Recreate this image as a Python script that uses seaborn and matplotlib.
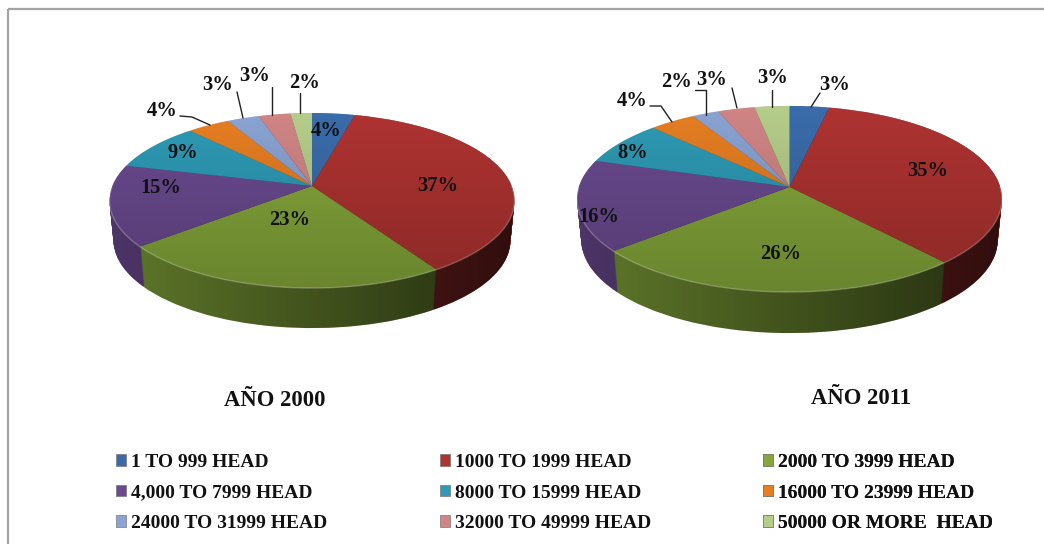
import numpy as np
import matplotlib
matplotlib.use("Agg")
import matplotlib.pyplot as plt
from matplotlib.patches import Patch, Polygon, Rectangle
from matplotlib.transforms import Transform
import seaborn as sns

# head-size classes
categories = ["1 TO 999 HEAD", "1000 TO 1999 HEAD", "2000 TO 3999 HEAD",
              "4,000 TO 7999 HEAD", "8000 TO 15999 HEAD", "16000 TO 23999 HEAD",
              "24000 TO 31999 HEAD", "32000 TO 49999 HEAD", "50000 OR MORE  HEAD"]
values_2000 = [4, 37, 23, 15, 9, 4, 3, 3, 2]
values_2011 = [3.4, 35, 25.5, 15.9, 7.7, 4, 2.3, 3.2, 3]
colores = ["#3a6cab", "#ae3331", "#84a63a", "#6a4a8f", "#2e9ab5",
           "#e67e22", "#8aa3d2", "#d08585", "#b5cd8a"]

# label centres and leader lines, in picture pixels
pos_2000 = [(326, 131), (438, 186), (290, 220), (161, 188), (183, 153),
            (162, 111), (218, 85), (255, 76), (304, 83)]
pos_2011 = [(835, 85), (928, 171), (781, 254), (599, 217), (633, 153),
            (632, 101), (676, 82), (712, 80), (773, 78)]
lineas_2000 = [[(180, 116), (192, 117), (210, 125)], [(237, 92), (243, 118)],
               [(272, 87), (272, 115)], [(300, 93), (300, 113)]]
lineas_2011 = [[(820, 93), (811, 107)], [(650, 106), (661, 106), (672, 122)],
               [(695, 90), (706, 90), (706, 115)], [(732, 88), (737, 108)],
               [(772, 90), (772, 107)]]

sns.set_theme(style="white")
plt.rcParams["font.family"] = ["Liberation Serif", "DejaVu Serif"]
paleta = sns.color_palette(colores)
sin_borde = {"linewidth": 0, "edgecolor": "none"}


class Perspectiva(Transform):
    # unit disc -> tilted disc, apex sits above the ellipse centre
    input_dims = 2
    output_dims = 2

    def __init__(self, cx, cy, a, b, k, z=0.0, esc=1.0):
        super().__init__()
        self.p = (cx, cy, a, b, k, z, esc)

    def transform_non_affine(self, values):
        cx, cy, a, b, k, z, esc = self.p
        v = np.asarray(values, dtype=float)
        w = 1 + k * v[:, 1]
        return np.column_stack([cx + esc * b * v[:, 0] / w, cy - a * v[:, 1] / w + z])


def gradiente(ax, poly, extent, alfa, zorder, vertical):
    rampa = np.zeros((256, 1, 4)) if vertical else np.zeros((1, 256, 4))
    if vertical:
        rampa[:, 0, 3] = np.linspace(alfa[0], alfa[1], 256)
    else:
        rampa[0, :, 3] = np.linspace(alfa[0], alfa[1], 256)
    im = ax.imshow(rampa, extent=extent, origin="upper", aspect="auto", zorder=zorder)
    im.set_clip_path(Polygon(poly, transform=ax.transData))


def tarta(ax, valores, cx, cy, a, b, k, prof):
    # side wall: stack of darker discs going up to the top face
    oscuros = [tuple(0.72 * c for c in col) for col in paleta]
    for z in range(prof, 0, -1):
        tr = Perspectiva(cx, cy, a, b, k, z, 1 - 0.02 * z / prof) + ax.transData
        wedges, _ = ax.pie(valores, colors=oscuros, startangle=90, counterclock=False,
                           wedgeprops=sin_borde)
        for w in wedges:
            w.set_transform(tr)
            w.set_zorder(1)
    wedges, _ = ax.pie(valores, colors=paleta, startangle=90, counterclock=False,
                       wedgeprops=sin_borde)
    arriba = Perspectiva(cx, cy, a, b, k) + ax.transData
    for w in wedges:
        w.set_transform(arriba)
        w.set_zorder(3)

    t = np.linspace(0, 2 * np.pi, 361)
    disco = np.column_stack([np.cos(t), np.sin(t)])
    cara = Perspectiva(cx, cy, a, b, k).transform_non_affine(disco)
    fondo = Perspectiva(cx, cy, a, b, k, prof, 0.98).transform_non_affine(disco)
    # silhouette of the wall, the arcs meet where the ellipse is widest
    giro = np.arcsin(k)
    t_del = np.linspace(np.pi + giro, 2 * np.pi - giro, 181)
    t_atr = np.linspace(-giro, np.pi + giro, 181)
    borde = np.vstack([
        Perspectiva(cx, cy, a, b, k, prof, 0.98).transform_non_affine(
            np.column_stack([np.cos(t_del), np.sin(t_del)])),
        Perspectiva(cx, cy, a, b, k).transform_non_affine(
            np.column_stack([np.cos(t_atr), np.sin(t_atr)]))])
    izq, der = cara[:, 0].min(), cara[:, 0].max()
    sup, inf = cara[:, 1].min(), fondo[:, 1].max()
    gradiente(ax, borde, (izq, der, inf, sup), (0.0, 0.62), 2, False)
    gradiente(ax, cara, (izq, der, cara[:, 1].max(), sup), (0.0, 0.2), 4, True)
    # thin light rim along the front edge
    rim = cara[181:]
    ax.plot(rim[:, 0], rim[:, 1], color="white", alpha=0.25, lw=1, zorder=5)


fig = plt.figure(figsize=(10.44, 5.44), dpi=100)
ax = fig.add_axes([0, 0, 1, 1])

tarta(ax, values_2000, 312, 186, 85.1, 199.7, 0.166, 40)
tarta(ax, values_2011, 789.5, 187, 91.5, 210.7, 0.129, 41)

ax.set_aspect("auto")
ax.set_xlim(0, 1044)
ax.set_ylim(544, 0)
ax.set_axis_off()

# frame runs off the right and bottom of the picture
ax.add_patch(Rectangle((8, 9), 1100, 560, fill=False, ec="#a3a3a3", lw=1.6, zorder=0))

for vals, posiciones, lineas in [(values_2000, pos_2000, lineas_2000),
                                 (values_2011, pos_2011, lineas_2011)]:
    for v, (x, y) in zip(vals, posiciones):
        ax.text(x, y, f"{round(v)}%", ha="center", va="center", fontsize=14.8,
                fontweight="bold", color="#111111", zorder=7)
    for ln in lineas:
        ax.plot([p[0] for p in ln], [p[1] for p in ln], color="#222222", lw=1, zorder=6)

ax.text(275, 401, "AÑO 2000", ha="center", va="center", fontsize=16.3,
        fontweight="bold", color="#111111")
ax.text(861, 398, "AÑO 2011", ha="center", va="center", fontsize=16.3,
        fontweight="bold", color="#111111")

# one legend per column, the columns are not evenly spaced in the original
handles = [Patch(facecolor=c, edgecolor="#777777", lw=0.5) for c in paleta]
for col, x_col in enumerate([116, 440, 763]):
    leg = ax.legend(handles[col::3], categories[col::3], loc="upper left",
                    bbox_to_anchor=(x_col, 454), bbox_transform=ax.transData,
                    frameon=False, borderpad=0, borderaxespad=0,
                    handlelength=0.52, handleheight=0.52, handletextpad=0.26,
                    labelspacing=0.695,
                    prop={"family": "Liberation Serif", "weight": "bold", "size": 14})
    for txt in leg.get_texts():
        txt.set_color("#111111")
    ax.add_artist(leg)

fig.savefig("out.png", dpi=100)
